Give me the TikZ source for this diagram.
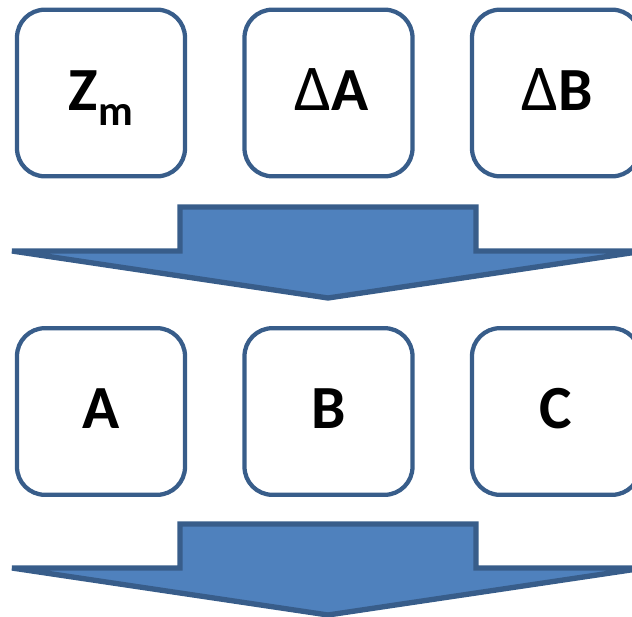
\documentclass[tikz,border=0pt]{standalone}
\usepackage{fontspec}
\setmainfont{Carlito}
\definecolor{boxline}{RGB}{56,93,138}
\definecolor{arrowfill}{RGB}{79,129,189}

\tikzset{every picture/.style={line width=0.75pt}}
\tikzset{
  varbox/.style={draw=boxline, line width=3.2pt, fill=white, rounded corners=21pt,
    minimum width=126pt, minimum height=125pt, inner sep=0pt,
    text height=25.5pt, text depth=0pt,
    font=\bfseries\fontsize{46}{55}\selectfont},
  blockarrow/.style={draw=boxline, fill=arrowfill, line width=4pt, line join=miter}
}
\newcommand{\subm}{\raisebox{-12pt}{\fontsize{32}{38}\selectfont m}}
\newcommand{\delt}{{\mdseries\fontsize{49}{55}\selectfont Δ}}

\begin{document}
\begin{tikzpicture}[x=0.75pt,y=0.75pt,yscale=-1,xscale=1]
\useasboundingbox (0,0) rectangle (632,617);

%Rounded Rect [id:zm] 
\node [varbox] (zm) at (101,93) {Z\subm};
%Rounded Rect [id:da] 
\node [varbox] (da) at (328.5,93) {\hspace{5pt}\delt A};
%Rounded Rect [id:db] 
\node [varbox] (db) at (556,93) {\hspace{2pt}\delt B};

%Down Arrow [id:arrowtop] 
\draw [blockarrow] (180,207) -- (476,207) -- (476,251) -- (644,251) -- (328,298) -- (12,251) -- (180,251) -- cycle ;

%Rounded Rect [id:a] 
\node [varbox] (a) at (101,411.5) {A};
%Rounded Rect [id:b] 
\node [varbox] (b) at (328.5,411.5) {B};
%Rounded Rect [id:c] 
\node [varbox] (c) at (556,411.5) {C};

%Down Arrow [id:arrowbottom] 
\draw [blockarrow] (180,524) -- (476,524) -- (476,568) -- (644,568) -- (328,615) -- (12,568) -- (180,568) -- cycle ;

\end{tikzpicture}
\end{document}
